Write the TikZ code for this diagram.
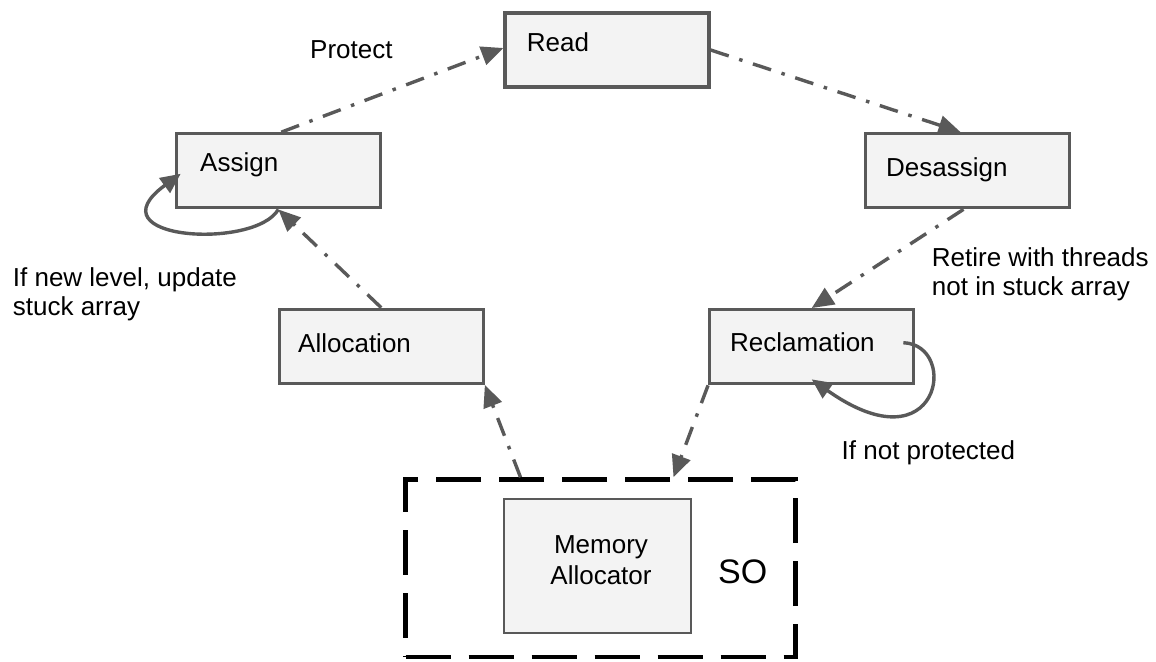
\documentclass[tikz,border=0pt]{standalone}
\usepackage{fontspec}
\setmainfont{Liberation Sans}
\usetikzlibrary{arrows.meta}
\definecolor{edge}{HTML}{595959}
\definecolor{boxfill}{HTML}{F3F3F3}

\begin{document}
\begin{tikzpicture}[x=1pt,y=-1pt,
  every node/.style={font=\fontsize{26}{29}\selectfont},
  stage/.style={draw=edge, fill=boxfill, line width=3.3pt, minimum width=204pt, minimum height=74pt, inner sep=0pt},
  txt/.style={inner sep=0pt, anchor=base west},
  flow/.style={draw=edge, line width=3.4pt, dash pattern=on 19pt off 11pt on 3.5pt off 11pt,
    -{Triangle[length=22pt,width=19pt]}},
  selfloop/.style={draw=edge, line width=3.4pt, -{Triangle[length=20pt,width=18pt]}}]
\useasboundingbox (0,0) rectangle (1156,661);

% the operating-system frame around the allocator
\node[draw=black, line width=4.5pt, dash pattern=on 45pt off 18pt,
      minimum width=390pt, minimum height=177.5pt, inner sep=0pt] (so) at (600.5,568.25) {};
\node[stage, minimum width=187pt, minimum height=134pt, line width=2.8pt] (mem) at (597.5,566) {};

% the five stages
\node[stage] (read) at (607,50) {};
\node[stage] (assign) at (278.3,170.8) {};
\node[stage] (desassign) at (967.5,170.7) {};
\node[stage] (alloc) at (381.2,346.3) {};
\node[stage] (recl) at (811.7,346.7) {};

% stage names (base anchor of a two-line node is the last baseline)
\node[txt] (readtxt) at (526.7,52) {Read};
\node[txt] (assigntxt) at (200,171.5) {Assign};
\node[txt] (desassigntxt) at (886,176.5) {Desassign};
\node[txt] (alloctxt) at (298,352) {Allocation};
\node[txt] (recltxt) at (730,351.5) {Reclamation};
\node[inner sep=0pt, anchor=base, align=center, font=\fontsize{26}{30.7}\selectfont] (memtxt) at (601,584) {Memory\\Allocator};
\node[txt, font=\fontsize{34}{40}\selectfont] (sotxt) at (718,583) {SO};

% edge labels
\node[txt] (protect) at (310,58.3) {Protect};
\node[txt] (notprot) at (841.5,459.3) {If not protected};
\node[txt, align=left, font=\fontsize{26}{28.5}\selectfont] (newlevel) at (12.7,315) {If new level, update\\stuck array};
\node[txt, align=left, font=\fontsize{26}{28.5}\selectfont] (retire) at (931.7,295) {Retire with threads\\not in stuck array};

% transitions
\draw[flow] ([xshift=3pt]assign.north) -- ([yshift=2pt]read.west);
\draw[flow] (read.east) -- ([xshift=-7pt]desassign.north);
\draw[flow] ([xshift=-4pt]desassign.south) -- (recl.north);
\draw[flow] (alloc.north) -- (assign.south);
\draw[flow] ([xshift=-80pt]so.north) -- (alloc.south east);
\draw[flow] (recl.south west) -- ([xshift=73pt]so.north);

% self loops
\draw[selfloop] (assign.south) .. controls (255,250) and (90,240) .. ([xshift=6pt,yshift=-3pt]assign.west);
\draw[selfloop] ([xshift=-12pt,yshift=4pt]recl.east) .. controls (960,345) and (940,470) .. ([yshift=6pt]recl.south);
\end{tikzpicture}
\end{document}
